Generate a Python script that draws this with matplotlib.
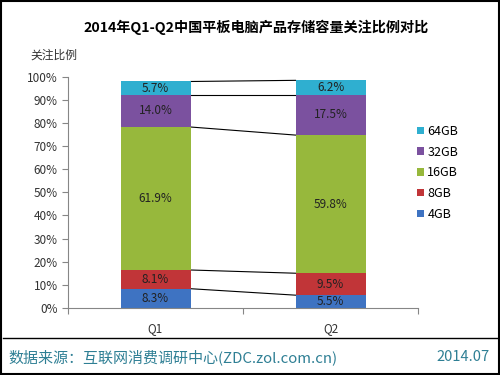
import matplotlib
matplotlib.use('Agg')
from matplotlib import pyplot as plt
from matplotlib.patches import Rectangle
import numpy as np

plt.rcParams['font.family'] = ['Noto Sans CJK SC', 'DejaVu Sans']

quarters = ['Q1', 'Q2']
series = ['4GB', '8GB', '16GB', '32GB', '64GB']
values = {
    '4GB': [8.3, 5.5],
    '8GB': [8.1, 9.5],
    '16GB': [61.9, 59.8],
    '32GB': [14.0, 17.5],
    '64GB': [5.7, 6.2],
}
colors = {
    '4GB': '#3E73C2',
    '8GB': '#C13538',
    '16GB': '#97B83C',
    '32GB': '#7B519F',
    '64GB': '#2FAFD0',
}

fig = plt.figure(figsize=(5, 3.75), dpi=100)
ax = fig.add_axes([0.136, 0.179, 0.70, 0.616])

x = np.array([0.5, 1.5])
width = 0.4
bottom = np.zeros(2)
bounds = []
for s in series:
    v = np.array(values[s])
    ax.bar(x, v, width, bottom=bottom, color=colors[s], label=s, zorder=2)
    for xi, vi, bi in zip(x, v, bottom):
        ax.text(xi, bi + vi / 2, f'{vi:.1f}%', ha='center', va='center',
                fontsize=8.5, color='#222222', zorder=3)
    bottom = bottom + v
    bounds.append(bottom.copy())

# series lines between the bars
for b in bounds:
    ax.plot([x[0] + width / 2, x[1] - width / 2], [b[0], b[1]],
            color='black', lw=0.8, zorder=1)

ax.set_xlim(0, 2)
ax.set_ylim(0, 100)
ax.set_yticks(np.arange(0, 101, 10))
ax.set_yticklabels([f'{t}%' for t in range(0, 101, 10)], fontsize=8.5, color='#333333')
ax.set_xticks([0, 1, 2])
ax.set_xticklabels([])
ax.set_xticks(x, minor=True)
ax.set_xticklabels(quarters, minor=True, fontsize=8.5, color='#333333')
ax.tick_params(axis='x', which='minor', length=0, pad=10)
ax.tick_params(axis='both', which='major', length=4, color='#868686', width=0.8)
for sp in ['top', 'right']:
    ax.spines[sp].set_visible(False)
for sp in ['left', 'bottom']:
    ax.spines[sp].set_color('#868686')
    ax.spines[sp].set_linewidth(0.8)

handles, labels = ax.get_legend_handles_labels()
leg = fig.legend(handles[::-1], labels[::-1], loc='upper left',
                 bbox_to_anchor=(0.812, 0.697), frameon=False, fontsize=9,
                 handlelength=0.55, handleheight=0.55, handletextpad=0.25,
                 labelspacing=0.62)

fig.text(0.512, 0.928, '2014年Q1-Q2中国平板电脑产品存储容量关注比例对比',
         ha='center', va='center', fontsize=10.2, fontweight='bold', color='black')
fig.text(0.06, 0.853, '关注比例', ha='left', va='center', fontsize=8.5, color='#333333')

fig.add_artist(plt.Line2D([0.006, 0.994], [0.098, 0.098], color='black', lw=1))
fig.text(0.016, 0.048, '数据来源：互联网消费调研中心(ZDC.zol.com.cn)', ha='left',
         va='center', fontsize=10.8, color='#2E7F94')
fig.text(0.98, 0.048, '2014.07', ha='right', va='center', fontsize=10.5, color='#2E7F94')

fig.add_artist(Rectangle((0.002, 0.003), 0.996, 0.994, transform=fig.transFigure,
                         fill=False, edgecolor='black', lw=1.5))

fig.savefig('out.png', dpi=100)
